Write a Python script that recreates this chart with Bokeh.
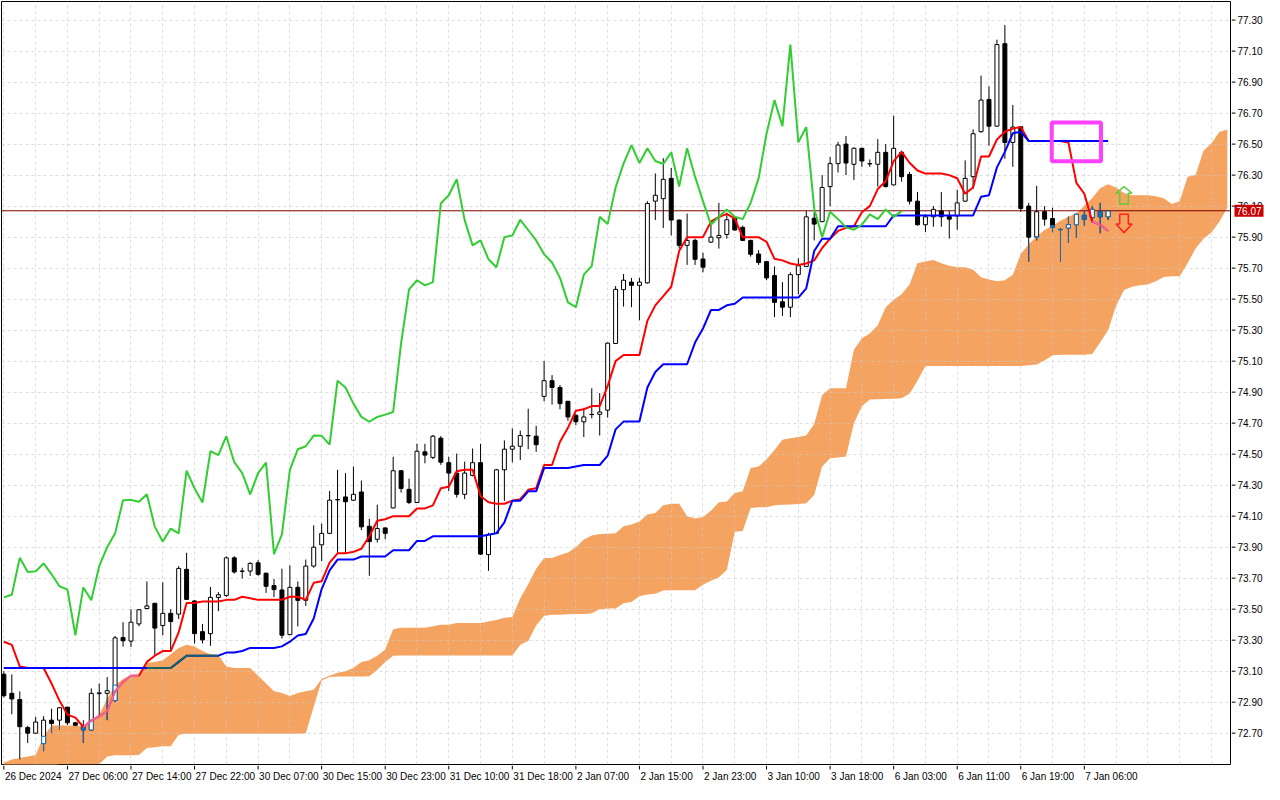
import numpy as np
from bokeh.plotting import figure
from bokeh.layouts import column, row
from bokeh.models import Range1d, FixedTicker, Span, Label, ColumnDataSource, Grid
from bokeh.core.properties import value
from bokeh.embed import file_html
from bokeh.resources import INLINE

# ---------------- data (H1 candles, 26 Dec 2024 22:00 -> 7 Jan 2025) ----------------
opens = [73.08, 72.957, 72.917, 72.736, 72.700, 72.633, 72.784, 72.784, 72.868, 72.767,
 72.748, 72.721, 72.955, 72.957, 72.911, 73.317, 73.294, 73.405, 73.504, 73.538,
 73.395, 73.473, 73.468, 73.757, 73.553, 73.355, 73.342, 73.576, 73.589, 73.831,
 73.746, 73.746, 73.799, 73.732, 73.652, 73.624, 73.336, 73.641, 73.557, 73.778,
 73.915, 73.989, 74.207, 74.224, 74.203, 74.256, 74.035, 73.951, 74.024, 74.153,
 74.393, 74.273, 74.188, 74.515, 74.479, 74.603, 74.445, 74.378, 74.241, 74.363,
 74.445, 73.852, 73.989, 74.399, 74.532, 74.551, 74.620, 74.616, 74.873, 74.974,
 74.930, 74.841, 74.751, 74.709, 74.757, 74.757, 74.784, 75.214, 75.561, 75.610,
 75.589, 75.605, 76.132, 76.148, 76.279, 76.010, 75.847, 75.879, 75.759, 75.868,
 75.896, 75.917, 76.022, 75.963, 75.879, 75.791, 75.742, 75.652, 75.483, 75.448,
 75.658, 75.711, 76.022, 76.000, 76.226, 76.374, 76.500, 76.370, 76.473, 76.374,
 76.370, 76.447, 76.237, 76.447, 76.304, 76.132, 75.980, 76.031, 76.069, 76.033,
 76.037, 76.132, 76.290, 76.580, 76.788, 76.616, 77.148, 76.511, 76.612, 76.100,
 75.900, 76.064, 76.020, 75.950, 75.959, 75.980, 76.041, 76.026, 76.064, 76.031]

highs = [73.10, 73.079, 72.970, 72.748, 72.805, 72.810, 72.858, 72.868, 72.870, 72.773,
 72.784, 72.989, 73.020, 73.062, 73.327, 73.416, 73.500, 73.500, 73.679, 73.540,
 73.673, 73.500, 73.778, 73.864, 73.557, 73.405, 73.643, 73.610, 73.841, 73.841,
 73.767, 73.803, 73.816, 73.736, 73.694, 73.761, 73.782, 73.679, 73.820, 74.041,
 74.052, 74.262, 74.399, 74.378, 74.420, 74.330, 74.083, 74.174, 74.028, 74.483,
 74.397, 74.342, 74.567, 74.567, 74.624, 74.616, 74.483, 74.504, 74.452, 74.536,
 74.567, 73.993, 74.405, 74.589, 74.666, 74.652, 74.793, 74.683, 75.100, 75.010,
 74.946, 74.843, 74.757, 74.799, 74.925, 74.894, 75.220, 75.584, 75.662, 75.637,
 75.637, 76.132, 76.311, 76.409, 76.346, 76.014, 76.052, 75.890, 75.799, 75.984,
 76.121, 76.058, 76.037, 75.974, 75.883, 75.816, 75.746, 75.711, 75.610, 75.673,
 75.763, 76.068, 76.064, 76.300, 76.416, 76.515, 76.553, 76.479, 76.477, 76.401,
 76.532, 76.500, 76.683, 76.458, 76.321, 76.191, 76.048, 76.100, 76.191, 76.069,
 76.205, 76.395, 76.595, 76.942, 76.873, 77.174, 77.268, 76.753, 76.616, 76.121,
 76.231, 76.100, 76.090, 75.959, 76.033, 76.050, 76.068, 76.100, 76.121, 76.070]

lows = [72.93, 72.822, 72.532, 72.637, 72.696, 72.584, 72.700, 72.721, 72.753, 72.745,
 72.637, 72.717, 72.816, 72.784, 72.900, 73.259, 73.256, 73.390, 73.500, 73.205,
 73.332, 73.226, 73.437, 73.559, 73.279, 73.279, 73.264, 73.487, 73.578, 73.730,
 73.698, 73.715, 73.715, 73.605, 73.578, 73.311, 73.332, 73.389, 73.521, 73.767,
 73.810, 73.984, 73.862, 73.862, 74.199, 74.010, 73.715, 73.930, 73.951, 74.150,
 74.252, 74.178, 74.185, 74.441, 74.468, 74.431, 74.262, 74.220, 74.210, 74.357,
 73.850, 73.747, 73.985, 74.199, 74.447, 74.462, 74.532, 74.515, 74.841, 74.820,
 74.789, 74.715, 74.687, 74.610, 74.730, 74.620, 74.736, 75.210, 75.452, 75.448,
 75.363, 75.600, 76.010, 75.959, 75.911, 75.826, 75.721, 75.721, 75.673, 75.864,
 75.826, 75.890, 75.942, 75.875, 75.774, 75.721, 75.622, 75.384, 75.391, 75.384,
 75.532, 75.707, 75.879, 75.996, 76.100, 76.317, 76.300, 76.269, 76.353, 76.353,
 76.226, 76.220, 76.233, 76.258, 76.111, 75.974, 75.932, 75.967, 75.967, 75.890,
 75.947, 76.128, 76.212, 76.574, 76.490, 76.612, 76.405, 76.353, 76.064, 75.742,
 75.879, 75.974, 75.932, 75.742, 75.862, 75.896, 75.974, 75.995, 75.925, 76.010]

closes = [72.942, 72.921, 72.742, 72.700, 72.772, 72.784, 72.763, 72.864, 72.767, 72.751,
 72.721, 72.957, 72.960, 72.974, 73.315, 73.296, 73.416, 73.496, 73.521, 73.378,
 73.473, 73.420, 73.763, 73.563, 73.342, 73.302, 73.576, 73.593, 73.831, 73.740,
 73.744, 73.795, 73.725, 73.648, 73.626, 73.332, 73.641, 73.557, 73.778, 73.900,
 73.989, 74.203, 74.205, 74.193, 74.241, 74.031, 73.936, 74.020, 73.989, 74.393,
 74.279, 74.188, 74.519, 74.494, 74.616, 74.448, 74.378, 74.241, 74.378, 74.445,
 73.855, 73.982, 74.399, 74.532, 74.551, 74.620, 74.618, 74.561, 74.974, 74.930,
 74.826, 74.740, 74.709, 74.740, 74.755, 74.772, 75.216, 75.563, 75.622, 75.589,
 75.610, 76.117, 76.170, 76.273, 76.010, 75.847, 75.879, 75.757, 75.706, 75.900,
 75.911, 76.012, 75.946, 75.879, 75.789, 75.736, 75.637, 75.479, 75.448, 75.658,
 75.715, 76.031, 75.984, 76.220, 76.374, 76.494, 76.378, 76.473, 76.391, 76.372,
 76.447, 76.226, 76.473, 76.290, 76.132, 75.980, 76.031, 76.079, 76.031, 76.016,
 76.121, 76.279, 76.567, 76.784, 76.616, 77.142, 76.511, 76.610, 76.085, 75.900,
 76.064, 76.016, 75.963, 75.948, 75.980, 76.047, 76.016, 76.079, 76.031, 76.068]

# Ichimoku lines
tenkan = [73.29, 73.27, 73.13, 73.12, 73.12, 73.12, 73.02, 72.91, 72.82, 72.80,
 72.74, 72.78, 72.81, 72.84, 72.97, 73.03, 73.07, 73.07, 73.16, 73.20,
 73.23, 73.23, 73.35, 73.54, 73.54, 73.55, 73.55, 73.55, 73.56, 73.56,
 73.58, 73.57, 73.56, 73.56, 73.56, 73.56, 73.58, 73.58, 73.56, 73.67,
 73.68, 73.80, 73.86, 73.86, 73.87, 73.89, 73.97, 74.07, 74.08, 74.10,
 74.10, 74.10, 74.15, 74.15, 74.17, 74.28, 74.29, 74.39, 74.40, 74.40,
 74.23, 74.19, 74.18, 74.18, 74.20, 74.21, 74.27, 74.28, 74.43, 74.43,
 74.58, 74.67, 74.78, 74.79, 74.81, 74.81, 74.94, 75.10, 75.14, 75.14,
 75.14, 75.36, 75.46, 75.52, 75.58, 75.81, 75.90, 75.90, 75.90, 76.00,
 76.03, 76.05, 76.02, 75.90, 75.90, 75.90, 75.87, 75.76, 75.75, 75.73,
 75.72, 75.73, 75.75, 75.83, 75.89, 75.94, 75.96, 75.97, 76.06, 76.10,
 76.21, 76.26, 76.39, 76.45, 76.38, 76.33, 76.31, 76.31, 76.31, 76.30,
 76.28, 76.18, 76.22, 76.42, 76.42, 76.53, 76.58, 76.60, 76.61, 76.52,
 76.52, 76.52, 76.52, 76.52, 76.51, 76.25, 76.18, 76.00, 75.98, 75.94]

kijun = [73.12, 73.12, 73.12, 73.12, 73.12, 73.12, 73.12, 73.12, 73.12, 73.12,
 73.12, 73.12, 73.12, 73.12, 73.12, 73.12, 73.12, 73.12, 73.12, 73.12,
 73.12, 73.12, 73.16, 73.20, 73.20, 73.20, 73.20, 73.20, 73.22, 73.22,
 73.23, 73.25, 73.25, 73.25, 73.25, 73.26, 73.29, 73.33, 73.34, 73.44,
 73.63, 73.75, 73.82, 73.82, 73.82, 73.84, 73.84, 73.84, 73.84, 73.88,
 73.88, 73.88, 73.94, 73.94, 73.97, 73.97, 73.97, 73.97, 73.97, 73.97,
 73.97, 73.98, 73.99, 74.06, 74.20, 74.20, 74.26, 74.26, 74.41, 74.41,
 74.41, 74.41, 74.42, 74.43, 74.43, 74.43, 74.49, 74.66, 74.71, 74.71,
 74.71, 74.93, 75.03, 75.08, 75.08, 75.08, 75.08, 75.22, 75.31, 75.43,
 75.43, 75.46, 75.47, 75.51, 75.51, 75.51, 75.51, 75.51, 75.51, 75.51,
 75.51, 75.57, 75.81, 75.89, 75.89, 75.97, 75.97, 75.97, 75.97, 75.97,
 75.97, 75.97, 76.04, 76.04, 76.04, 76.04, 76.04, 76.04, 76.04, 76.04,
 76.04, 76.04, 76.04, 76.16, 76.17, 76.35, 76.45, 76.57, 76.58, 76.52,
 76.52, 76.52, 76.52, 76.52, 76.52, 76.52, 76.52, 76.52, 76.52, 76.52]

senkou_a = [72.51, 72.53, 72.54, 72.55, 72.56, 72.68, 72.75, 72.75, 72.75, 72.75,
 72.74, 72.785, 72.82, 72.92, 73.01, 73.05, 73.075, 73.08, 73.155, 73.16,
 73.17, 73.21, 73.25, 73.27, 73.26, 73.23, 73.21, 73.205, 73.13, 73.12,
 73.12, 73.12, 73.07, 73.02, 72.97, 72.96, 72.94, 72.96, 72.97, 72.98,
 73.05, 73.07, 73.09, 73.10, 73.12, 73.16, 73.17, 73.20, 73.24, 73.37,
 73.38, 73.38, 73.38, 73.38, 73.39, 73.40, 73.40, 73.41, 73.41, 73.41,
 73.41, 73.42, 73.43, 73.445, 73.45, 73.57, 73.66, 73.76, 73.83, 73.83,
 73.85, 73.865, 73.90, 73.95, 73.975, 73.985, 73.986, 73.99, 74.035, 74.047,
 74.065, 74.11, 74.12, 74.17, 74.18, 74.18, 74.10, 74.085, 74.095, 74.135,
 74.19, 74.195, 74.25, 74.26, 74.41, 74.42, 74.465, 74.527, 74.593, 74.603,
 74.61, 74.62, 74.695, 74.88, 74.925, 74.925, 74.925, 75.174, 75.248, 75.279,
 75.332, 75.447, 75.496, 75.532, 75.595, 75.732, 75.742, 75.753, 75.732, 75.715,
 75.706, 75.706, 75.690, 75.641, 75.626, 75.616, 75.622, 75.658, 75.791, 75.854,
 75.904, 75.946, 75.974, 76.005, 76.031, 76.054, 76.100, 76.153, 76.216, 76.241,
 76.22, 76.185, 76.17, 76.17, 76.17, 76.163, 76.15, 76.113, 76.132, 76.289,
 76.300, 76.458, 76.506, 76.578, 76.595]

senkou_b = [72.45, 72.45, 72.45, 72.45, 72.45, 72.45, 72.49, 72.50, 72.50, 72.50,
 72.50, 72.50, 72.50, 72.55, 72.557, 72.557, 72.557, 72.56, 72.605, 72.61,
 72.616, 72.616, 72.69, 72.696, 72.696, 72.696, 72.696, 72.696, 72.696, 72.696,
 72.696, 72.696, 72.696, 72.696, 72.696, 72.696, 72.696, 72.696, 72.70, 72.87,
 73.04, 73.062, 73.066, 73.066, 73.066, 73.066, 73.068, 73.11, 73.16, 73.20,
 73.201, 73.201, 73.201, 73.201, 73.201, 73.201, 73.201, 73.201, 73.201, 73.201,
 73.201, 73.201, 73.201, 73.201, 73.201, 73.27, 73.294, 73.395, 73.458, 73.464,
 73.464, 73.467, 73.469, 73.469, 73.473, 73.50, 73.504, 73.504, 73.538, 73.546,
 73.584, 73.595, 73.60, 73.62, 73.622, 73.622, 73.622, 73.622, 73.658, 73.683,
 73.706, 73.753, 74.00, 74.005, 74.153, 74.157, 74.158, 74.17, 74.174, 74.175,
 74.178, 74.184, 74.237, 74.42, 74.473, 74.479, 74.485, 74.70, 74.809, 74.852,
 74.854, 74.856, 74.858, 74.86, 74.89, 74.974, 75.069, 75.069, 75.069, 75.069,
 75.069, 75.069, 75.069, 75.069, 75.069, 75.069, 75.069, 75.069, 75.069, 75.073,
 75.079, 75.104, 75.138, 75.142, 75.142, 75.142, 75.142, 75.146, 75.222, 75.30,
 75.458, 75.559, 75.58, 75.589, 75.595, 75.616, 75.643, 75.647, 75.647, 75.732,
 75.826, 75.89, 75.93, 76.00, 76.09]

chikou_shift = 26
last_price = 76.07

price_ticks = [72.70, 72.90, 73.10, 73.30, 73.50, 73.70, 73.90, 74.10, 74.30, 74.50,
               74.70, 74.90, 75.10, 75.30, 75.50, 75.70, 75.90, 76.10, 76.30, 76.50,
               76.70, 76.90, 77.10, 77.30]
date_ticks = [0, 8, 16, 24, 32, 40, 48, 56, 64, 72, 80, 88, 96, 104, 112, 120, 128, 136]
date_labels = ["26 Dec 2024", "27 Dec 06:00", "27 Dec 14:00", "27 Dec 22:00",
               "30 Dec 07:00", "30 Dec 15:00", "30 Dec 23:00", "31 Dec 10:00",
               "31 Dec 18:00", "2 Jan 07:00", "2 Jan 15:00", "2 Jan 23:00",
               "3 Jan 10:00", "3 Jan 18:00", "6 Jan 03:00", "6 Jan 11:00",
               "6 Jan 19:00", "7 Jan 06:00"]

# user-drawn objects (bar index / price anchors)
box_left, box_right, box_top, box_bottom = 131.9, 138.1, 76.64, 76.39
arrow_bar = 141
up_arrow = (76.114, 76.183, 76.226)     # tail, head base, tip
down_arrow = (76.047, 75.984, 75.929)   # tail, head base, tip

# ---------------- styling ----------------
FONT = "Liberation Sans"
CLOUD = "#F4A460"
IN_CLOUD_CANDLE = "#1E6EB4"
IN_CLOUD_TENKAN = "#F064AA"
IN_CLOUD_KIJUN = "#146464"

N = len(closes)
idx = np.arange(N)
o, h, l, c = (np.array(v) for v in (opens, highs, lows, closes))
A = np.array(senkou_a)
B = np.array(senkou_b)
cloud_x = np.arange(len(senkou_a))

MAIN_W, MAIN_H, AXIS_W, AXIS_H = 1231, 765, 41, 19

p = figure(width=MAIN_W, height=MAIN_H, x_range=Range1d(-0.3, 154.4),
           y_range=Range1d(72.498, 77.42), output_backend="svg",
           toolbar_location=None, x_axis_type=None, y_axis_type=None,
           min_border_left=1, min_border_top=1, min_border_right=1,
           min_border_bottom=1, background_fill_color="white",
           border_fill_color="white", outline_line_color="black")

# grid
for dim, ticks in ((0, list(range(0, 155, 4))), (1, price_ticks)):
    p.add_layout(Grid(dimension=dim, ticker=FixedTicker(ticks=ticks),
                      grid_line_color="#C8C8C8", grid_line_alpha=0.6,
                      grid_line_dash="3 3", grid_line_width=1), "center")

# cloud (drawn below the grid)
p.varea(x=cloud_x, y1=B, y2=A, fill_color=CLOUD, level="image")

# last price line
p.add_layout(Span(location=last_price, dimension="width", line_color="#800000",
                  line_width=1, level="underlay"))

# candles
bull = c >= o
body_top = np.maximum(o, c)
body_bot = np.minimum(o, c)
src = ColumnDataSource(dict(x=idx, h=h, l=l, top=body_top, bot=body_bot,
                            fill=np.where(bull, "white", "black")))
p.segment(x0="x", y0="l", x1="x", y1="h", source=src, line_color="black", line_width=1)
p.vbar(x="x", width=0.5, top="top", bottom="bot", source=src, fill_color="fill",
       line_color="black", line_width=1)

# parts of candles lying inside the cloud are drawn in blue
a_n, b_n = A[:N], B[:N]
w_lo, w_hi = np.maximum(l, b_n), np.minimum(h, a_n)
wm = w_lo < w_hi
p.segment(x0=idx[wm], y0=w_lo[wm], x1=idx[wm], y1=w_hi[wm],
          line_color=IN_CLOUD_CANDLE, line_width=1)
b_lo, b_hi = np.maximum(body_bot, b_n), np.minimum(body_top, a_n)
bm = b_lo < b_hi
p.vbar(x=idx[bm], width=0.5, top=b_hi[bm], bottom=b_lo[bm],
       fill_color=list(np.where(bull[bm], "white", IN_CLOUD_CANDLE)),
       line_color=IN_CLOUD_CANDLE, line_width=1)


def cloud_segments(vals):
    v = np.array(vals)
    n = len(v)
    ins = (v >= B[:n] - 0.001) & (v <= A[:n] + 0.001)
    seg = ins[:-1] & ins[1:]
    xs = np.arange(n)
    return xs[:-1][seg], v[:-1][seg], xs[1:][seg], v[1:][seg]


# Tenkan-sen
p.line(idx, tenkan, line_color="#FF0000", line_width=2)
x0, y0, x1, y1 = cloud_segments(tenkan)
p.segment(x0=x0, y0=y0, x1=x1, y1=y1, line_color=IN_CLOUD_TENKAN, line_width=2)

# Kijun-sen
p.line(idx, kijun, line_color="#0000FF", line_width=2)
x0, y0, x1, y1 = cloud_segments(kijun)
p.segment(x0=x0, y0=y0, x1=x1, y1=y1, line_color=IN_CLOUD_KIJUN, line_width=2)

# Chikou span: closes plotted 26 bars back
p.line(idx[:N - chikou_shift], c[chikou_shift:], line_color="#32CD32", line_width=2)

# rectangle object
p.quad(left=[box_left], right=[box_right], top=[box_top], bottom=[box_bottom],
       fill_color=None, line_color="#FF40FF", line_width=4)

# arrow objects
hw, sw = 1.0, 0.54
for (tail, base, tip), col in ((up_arrow, "#5CCB3C"), (down_arrow, "#FF2020")):
    p.patch([arrow_bar - sw, arrow_bar + sw, arrow_bar + sw, arrow_bar + hw, arrow_bar,
             arrow_bar - hw, arrow_bar - sw],
            [tail, tail, base, base, tip, base, base],
            fill_color=None, line_color=col, line_width=1.5)

# ---------------- price scale (right) ----------------
pr = figure(width=AXIS_W, height=MAIN_H, x_range=Range1d(0, AXIS_W), y_range=p.y_range,
            output_backend="svg", toolbar_location=None, x_axis_type=None,
            y_axis_type=None, min_border_left=0, min_border_right=0, min_border_top=1,
            min_border_bottom=1, outline_line_color=None, background_fill_color="white",
            border_fill_color="white")
pr.segment(x0=0, x1=4, y0=price_ticks, y1=price_ticks, line_color="black", line_width=1)
pr.text(x=6, y=price_ticks, text=[f"{t:.2f}" for t in price_ticks], text_align="left",
        text_baseline="middle", text_font=value(FONT), text_font_size="10px",
        text_color="black")
pr.add_layout(Label(x=1, y=last_price, text=f"{last_price:.2f}", text_align="left",
                    text_baseline="middle", x_offset=2, text_font=FONT,
                    text_font_size="10px", text_color="white",
                    background_fill_color="#C80000", padding=2))

# ---------------- time scale (bottom) ----------------
pb = figure(width=MAIN_W, height=AXIS_H, x_range=p.x_range, y_range=Range1d(-AXIS_H, 0),
            output_backend="svg", toolbar_location=None, x_axis_type=None,
            y_axis_type=None, min_border_left=1, min_border_right=1, min_border_top=0,
            min_border_bottom=0, outline_line_color=None, background_fill_color="white",
            border_fill_color="white")
pb.segment(x0=date_ticks, x1=date_ticks, y0=0, y1=-4, line_color="black", line_width=1)
pb.text(x=date_ticks, y=-5, text=date_labels, text_align="left", text_baseline="top",
        x_offset=1, text_font=value(FONT), text_font_size="10px", text_color="black")

layout = column(row(p, pr), pb)
open("out.html", "w").write(file_html(layout, INLINE))
